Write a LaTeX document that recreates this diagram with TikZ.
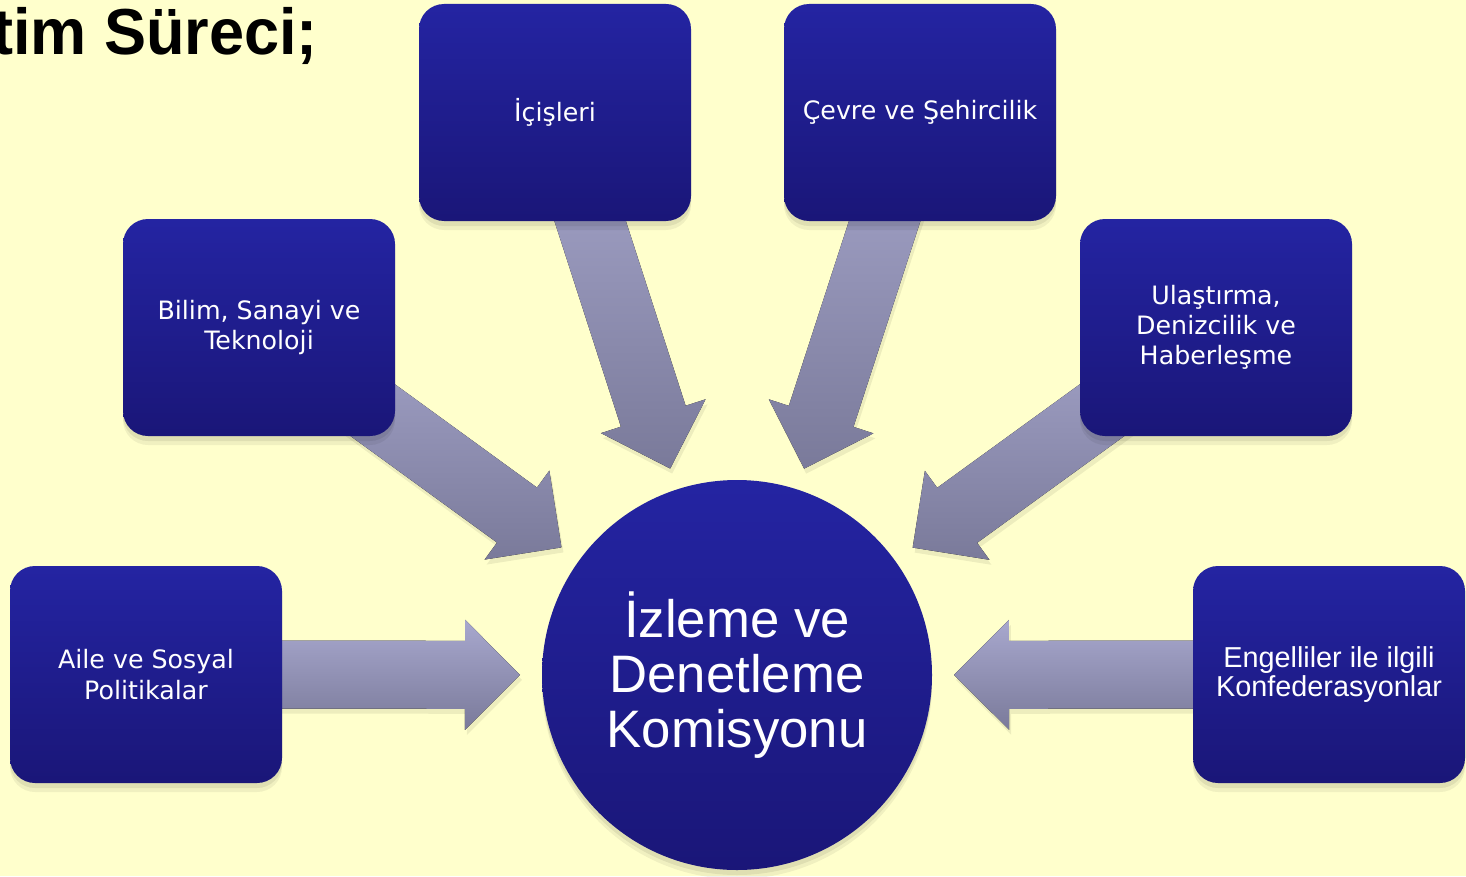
\documentclass[tikz,border=0pt]{standalone}
\usepackage{fontspec}
\setmainfont{DejaVu Sans}
\newfontfamily\arialfont{Liberation Sans}
\usetikzlibrary{calc}
\definecolor{bgyellow}{RGB}{255,255,204}
\definecolor{boxtop}{RGB}{36,36,162}
\definecolor{boxbot}{RGB}{26,22,120}
\definecolor{arrtop}{RGB}{168,168,206}
\definecolor{arrbot}{RGB}{122,122,154}
\pgfdeclarelayer{paper}
\pgfdeclarelayer{arrows}
\pgfsetlayers{paper,arrows,main}
\newcommand{\feedarrow}[2]{%
  \coordinate (tip) at ($(#2.center)!21.7mm!(#1.center)$);
  \coordinate (neck) at ($(tip)!5.5mm!(#1.center)$);
  \fill[feed] (tip) -- ($(neck)!5.5mm!90:(#1.center)$) -- ($(neck)!3.4mm!90:(#1.center)$)
    -- ($(#1.center)!3.4mm!-90:(tip)$) -- ($(#1.center)!3.4mm!90:(tip)$)
    -- ($(neck)!3.4mm!-90:(#1.center)$) -- ($(neck)!5.5mm!-90:(#1.center)$) -- cycle;}
\begin{document}
\begin{tikzpicture}[x=0.1mm,y=0.1mm,
    softshade/.style={preaction={fill=black,fill opacity=0.06,transform canvas={yshift=-0.9mm}},
      preaction={fill=black,fill opacity=0.07,transform canvas={yshift=-0.5mm}}},
    unit/.style={rounded corners=2.5mm,minimum width=27.2mm,minimum height=21.7mm,inner sep=0pt,
      softshade,top color=boxtop,bottom color=boxbot,text=white,align=center,
      font=\fontsize{7.2}{8.6}\selectfont},
    hub/.style={circle,minimum size=39mm,inner sep=0pt,softshade,top color=boxtop,bottom color=boxbot,
      text=white,align=center,font=\arialfont\fontsize{15}{15.6}\selectfont},
    feed/.style={preaction={fill=black,fill opacity=0.07,transform canvas={xshift=0.2mm,yshift=-0.5mm}},
      top color=arrtop,bottom color=arrbot}]
  \useasboundingbox (0,0) rectangle (1466,876);
  \begin{pgfonlayer}{paper}
    \fill[bgyellow] (0,0) rectangle (1466,876);
  \end{pgfonlayer}
  \node[anchor=base east,xscale=0.97,transform shape,font=\arialfont\bfseries\fontsize{18.5}{20}\selectfont] (title) at (330,821) {tim Süreci;};
  \node[hub] (izleme) at (737,201) {İzleme ve\\Denetleme\\Komisyonu};
  \node[unit] (icisleri) at (555,763.5) {İçişleri};
  \node[unit] (cevre) at (920,763.5) {Çevre ve Şehircilik};
  \node[unit] (bilim) at (259,548.5) {Bilim, Sanayi ve\\Teknoloji};
  \node[unit] (ulastirma) at (1216,548.5) {Ulaştırma,\\Denizcilik ve\\Haberleşme};
  \node[unit] (aile) at (146,201.5) {Aile ve Sosyal\\Politikalar};
  \node[unit,font=\arialfont\fontsize{8.2}{8.3}\selectfont] (engelli) at (1329,201.5) {Engelliler ile ilgili\\Konfederasyonlar};
  \begin{pgfonlayer}{arrows}
    \feedarrow{icisleri}{izleme}
    \feedarrow{cevre}{izleme}
    \feedarrow{bilim}{izleme}
    \feedarrow{ulastirma}{izleme}
    \feedarrow{aile}{izleme}
    \feedarrow{engelli}{izleme}
  \end{pgfonlayer}
\end{tikzpicture}
\end{document}
